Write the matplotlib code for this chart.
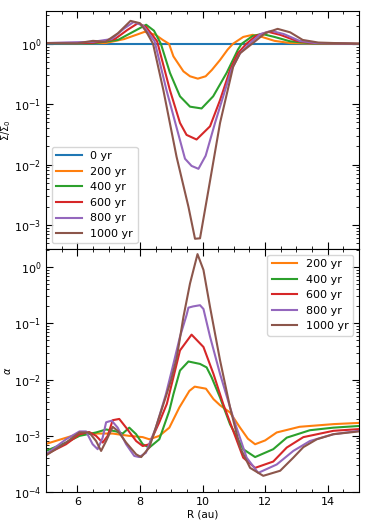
import numpy as np
import matplotlib
matplotlib.use("Agg")
import matplotlib.pyplot as plt

labels = ["0 yr", "200 yr", "400 yr", "600 yr", "800 yr", "1000 yr"]

# surface density Sigma/Sigma0
r_sig0 = [5, 15]
sig0 = [1.0, 1.0]

r_sig200 = [5, 6, 6.9, 7.5, 7.9, 8.15, 8.5, 8.73, 8.93, 9.07, 9.39, 9.6, 9.85, 10.1, 10.3,
            10.56, 10.8, 10.97, 11.3, 11.6, 11.9, 12.3, 12.8, 13.5, 15]
sig200 = [1.03, 1.02, 1.03, 1.2, 1.42, 1.58, 1.41, 1.16, 1.0, 0.62, 0.35, 0.29, 0.265, 0.29, 0.37,
          0.54, 0.8, 1.0, 1.3, 1.41, 1.3, 1.12, 1.03, 1.01, 1.0]

r_sig400 = [5, 6.5, 7.3, 7.8, 8.2, 8.45, 8.67, 8.96, 9.28, 9.6, 9.97, 10.34, 10.77, 11.13, 11.25,
            11.6, 11.9, 12.3, 12.8, 13.5, 15]
sig400 = [1.03, 1.02, 1.16, 1.6, 2.07, 1.65, 1.0, 0.33, 0.135, 0.091, 0.085, 0.135, 0.33, 0.8, 1.0,
          1.35, 1.46, 1.3, 1.1, 1.02, 1.0]

r_sig600 = [5, 6.5, 7.2, 7.6, 7.94, 8.2, 8.55, 8.96, 9.28, 9.49, 9.81, 10.24, 10.56, 10.88, 11.13,
            11.4, 11.7, 12.1, 12.5, 13.0, 13.5, 15]
sig600 = [1.03, 1.04, 1.2, 1.7, 2.2, 1.9, 1.1, 0.17, 0.049, 0.031, 0.026, 0.043, 0.117, 0.37, 0.7,
          1.0, 1.35, 1.58, 1.4, 1.12, 1.03, 1.0]

r_sig800 = [5, 6.5, 7.1, 7.5, 7.8, 8.1, 8.47, 8.85, 9.15, 9.44, 9.65, 9.87, 10.1, 10.4, 10.92,
            11.2, 11.5, 11.85, 12.2, 12.6, 13.1, 13.6, 15]
sig800 = [1.03, 1.08, 1.2, 1.8, 2.3, 2.0, 1.1, 0.17, 0.045, 0.0125, 0.0095, 0.0085, 0.014, 0.049, 0.37,
          0.7, 1.0, 1.45, 1.64, 1.45, 1.12, 1.03, 1.0]

r_sig1000 = [5, 6.0, 6.5, 6.9, 7.3, 7.7, 8.0, 8.2, 8.42, 8.75, 9.17, 9.55, 9.76, 9.92, 10.19,
             10.56, 10.98, 11.2, 11.58, 12.0, 12.4, 12.8, 13.2, 13.7, 15]
sig1000 = [1.03, 1.02, 1.12, 1.08, 1.5, 2.4, 2.2, 1.6, 1.0, 0.17, 0.0135, 0.002, 0.00059, 0.0006, 0.0038,
           0.049, 0.42, 0.7, 1.0, 1.5, 1.77, 1.55, 1.16, 1.05, 1.0]

# viscosity alpha
r_a200 = [5, 5.96, 6.5, 7.13, 7.66, 8.09, 8.3, 8.62, 8.94, 9.26, 9.58, 9.75, 10.11, 10.35, 10.56,
          10.88, 11.2, 11.45, 11.68, 12.0, 12.37, 13.1, 14.2, 15]
a200 = [7.2e-4, 1.05e-3, 1.1e-3, 1.1e-3, 1.0e-3, 9.5e-4, 8.7e-4, 1.0e-3, 1.4e-3, 3.2e-3, 6.3e-3, 7.5e-3,
        6.9e-3, 4.5e-3, 3.5e-3, 2.6e-3, 1.4e-3, 8.9e-4, 7.1e-4, 8.3e-4, 1.15e-3, 1.45e-3, 1.62e-3, 1.7e-3]

r_a400 = [5, 5.64, 6.07, 6.6, 6.92, 7.24, 7.45, 7.66, 7.88, 8.09, 8.3, 8.62, 8.94, 9.07, 9.28,
          9.55, 9.92, 10.13, 10.29, 10.56, 10.88, 11.3, 11.68, 12.26, 12.69, 13.43, 14.18, 15]
a400 = [5.4e-4, 7.6e-4, 1.0e-3, 1.15e-3, 1.3e-3, 1.2e-3, 1.1e-3, 1.4e-3, 1.07e-3, 7.1e-4, 6.2e-4, 8.7e-4,
        2.8e-3, 5.5e-3, 1.45e-2, 2.1e-2, 1.9e-2, 1.65e-2, 1.1e-2, 4.8e-3, 1.6e-3, 5.8e-4, 4.2e-4, 5.8e-4,
        9.3e-4, 1.26e-3, 1.4e-3, 1.5e-3]

r_a600 = [5, 5.64, 6.07, 6.38, 6.6, 6.81, 6.97, 7.13, 7.34, 7.56, 7.88, 8.09, 8.3, 8.62, 8.86,
          9.07, 9.28, 9.65, 10.03, 10.35, 10.66, 10.98, 11.3, 11.68, 12.26, 12.69, 13.22, 14.18, 15]
a600 = [4.7e-4, 7.1e-4, 1.07e-3, 1.17e-3, 1.0e-3, 7.6e-4, 1.0e-3, 1.9e-3, 2.0e-3, 1.4e-3, 8.1e-4, 6.6e-4,
        7.1e-4, 1.75e-3, 3.7e-3, 1.1e-2, 3.3e-2, 6.3e-2, 3.8e-2, 1.26e-2, 3.7e-3, 1.23e-3, 4.1e-4, 2.7e-4,
        3.5e-4, 6.2e-4, 9.5e-4, 1.23e-3, 1.32e-3]

r_a800 = [5, 5.64, 6.07, 6.28, 6.49, 6.65, 6.81, 6.92, 7.0, 7.1, 7.29, 7.56, 7.82, 7.98, 8.19,
          8.51, 8.83, 9.07, 9.28, 9.49, 9.55, 9.7, 9.92, 10.03, 10.24, 10.56, 10.98, 11.41, 11.78,
          12.37, 12.9, 13.43, 14.18, 15]
a800 = [4.7e-4, 8.7e-4, 1.2e-3, 1.2e-3, 7.1e-4, 5.8e-4, 9.3e-4, 1.74e-3, 1.8e-3, 1.86e-3, 1.4e-3, 7.1e-4,
        4.4e-4, 4.2e-4, 5.0e-4, 1.4e-3, 5.5e-3, 1.9e-2, 5.8e-2, 0.14, 0.19, 0.2, 0.21, 0.18, 5.8e-2,
        1.26e-2, 2.1e-3, 4.1e-4, 2.2e-4, 3.1e-4, 5.4e-4, 8.1e-4, 1.07e-3, 1.23e-3]

r_a1000 = [5, 5.64, 6.07, 6.38, 6.6, 6.76, 6.92, 7.13, 7.29, 7.56, 7.88, 8.04, 8.3, 8.62, 8.83,
           9.0, 9.18, 9.39, 9.6, 9.84, 10.03, 10.24, 10.56, 10.88, 11.2, 11.52, 11.94, 12.48, 12.9,
           13.22, 13.65, 14.18, 15]
a1000 = [4.5e-4, 7.6e-4, 1.15e-3, 1.15e-3, 8.1e-4, 5.4e-4, 8.1e-4, 1.45e-3, 1.23e-3, 7.6e-4, 4.7e-4,
         4.2e-4, 6.2e-4, 2.2e-3, 5.0e-3, 1.0e-2, 2.5e-2, 0.13, 0.51, 1.7, 0.89, 0.195, 2.2e-2, 3.2e-3,
         6.2e-4, 2.7e-4, 1.95e-4, 2.4e-4, 4.1e-4, 6.3e-4, 8.7e-4, 1.07e-3, 1.2e-3]

sig_r = [r_sig0, r_sig200, r_sig400, r_sig600, r_sig800, r_sig1000]
sig_v = [sig0, sig200, sig400, sig600, sig800, sig1000]
a_r = [r_a200, r_a400, r_a600, r_a800, r_a1000]
a_v = [a200, a400, a600, a800, a1000]

fig = plt.figure(figsize=(3.74, 5.23), dpi=100)
ax1 = fig.add_axes([0.123, 0.524, 0.837, 0.455])
ax2 = fig.add_axes([0.123, 0.059, 0.837, 0.465], sharex=ax1)

for i in range(6):
    ax1.plot(sig_r[i], sig_v[i], color="C%d" % i, lw=1.5, label=labels[i])
for i in range(5):
    ax2.plot(a_r[i], a_v[i], color="C%d" % (i + 1), lw=1.5, label=labels[i + 1])

ax1.set_yscale("log")
ax2.set_yscale("log")
ax1.set_xlim(5, 15)
ax1.set_ylim(4e-4, 3.5)
ax2.set_ylim(1e-4, 2.1)

for ax in (ax1, ax2):
    ax.minorticks_on()
    ax.tick_params(which="both", direction="in", top=True, right=True, labelsize=8)
    ax.tick_params(which="major", length=5)
    ax.tick_params(which="minor", length=2.5)
ax1.tick_params(labelbottom=False)
ax2.set_xticks([6, 8, 10, 12, 14])

ax1.set_ylabel(r"$\Sigma/\Sigma_0$", fontsize=7)
ax2.set_ylabel(r"$\alpha$", fontsize=7)
ax1.yaxis.set_label_coords(-0.105, 0.5)
ax2.yaxis.set_label_coords(-0.105, 0.5)
ax2.set_xlabel("R (au)", fontsize=7.5, labelpad=2)

ax1.legend(loc="lower left", fontsize=8, handlelength=2.3)
ax2.legend(loc="upper right", fontsize=8, handlelength=2.3)

fig.savefig("out.png", dpi=100)
